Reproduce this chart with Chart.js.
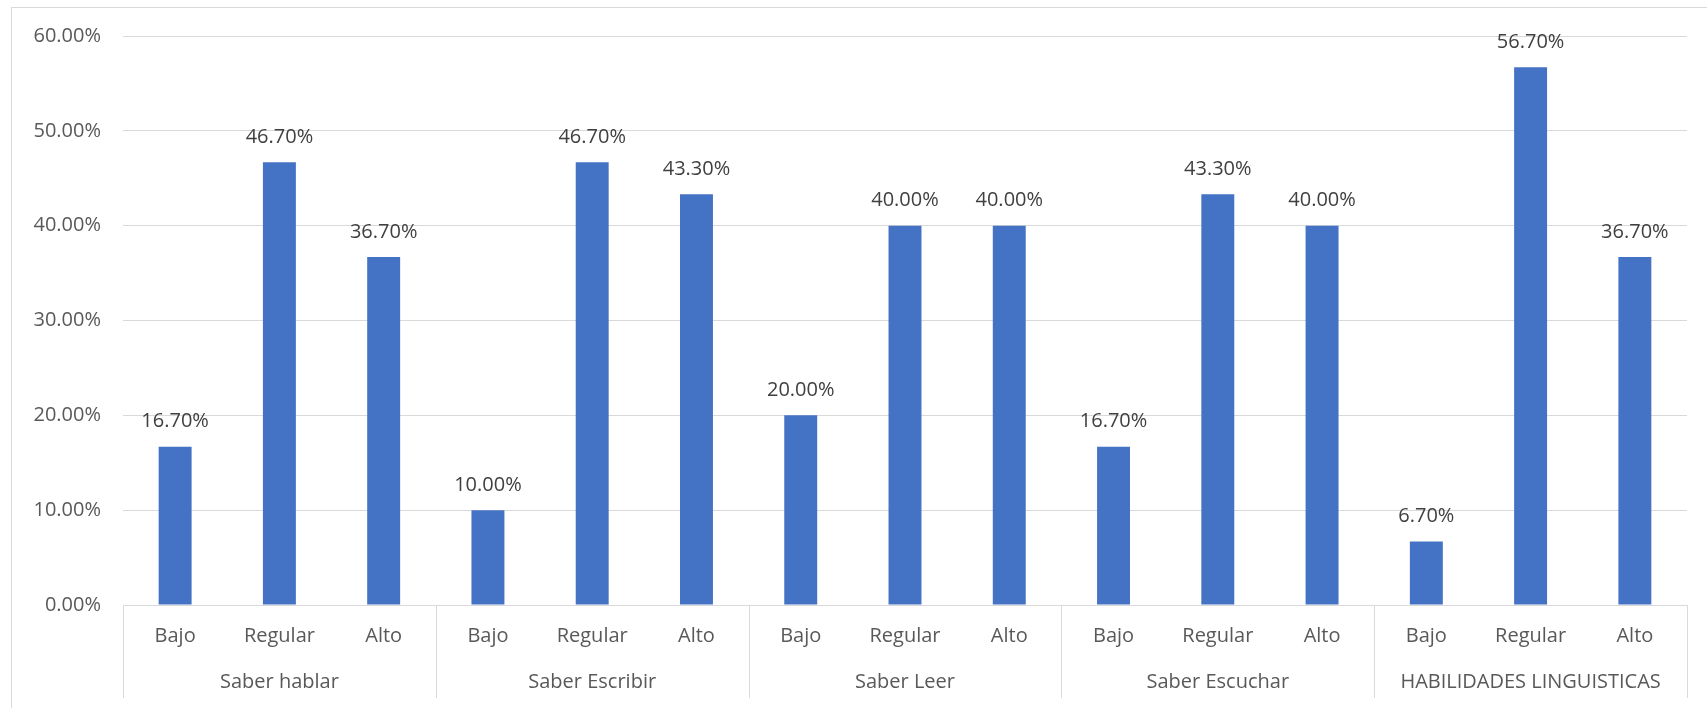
<!DOCTYPE html>
<html>
<head>
<meta charset="utf-8">
<script src="https://cdn.jsdelivr.net/npm/chart.js@4.4.1/dist/chart.umd.min.js"></script>
<style>
  html, body { margin: 0; padding: 0; background: #fff; }
  #wrap { width: 1707px; height: 708px; position: relative; }
</style>
</head>
<body>
<div id="wrap"><canvas id="chart" width="1707" height="708"></canvas></div>
<script>
const levels = ['Bajo', 'Regular', 'Alto'];
const groups = ['Saber hablar', 'Saber Escribir', 'Saber Leer', 'Saber Escuchar', 'HABILIDADES LINGUISTICAS'];
const values = [16.7, 46.7, 36.7, 10.0, 46.7, 43.3, 20.0, 40.0, 40.0, 16.7, 43.3, 40.0, 6.7, 56.7, 36.7];
const yTicks = [0, 10, 20, 30, 40, 50, 60];

const labels = [];
groups.forEach(() => levels.forEach(l => labels.push(l)));

const FONT = "'Open Sans', sans-serif";
const GRID = '#d9d9d9';
const SIZE = 20;

// frame around the whole chart
const framePlugin = {
  id: 'frame',
  beforeDraw(chart) {
    const ctx = chart.ctx;
    ctx.save();
    ctx.strokeStyle = GRID;
    ctx.lineWidth = 1;
    ctx.strokeRect(11.5, 7.5, 1720, 720);
    ctx.restore();
  }
};

// vertical separators between groups on the category axis
const dividers = {
  id: 'dividers',
  afterDraw(chart) {
    const x = chart.scales.x;
    const ctx = chart.ctx;
    const step = x.width / labels.length;
    ctx.save();
    ctx.strokeStyle = GRID;
    ctx.lineWidth = 1;
    for (let i = 0; i <= labels.length; i += levels.length) {
      const px = Math.round(x.left + i * step) + 0.5;
      ctx.beginPath();
      ctx.moveTo(px, x.top);
      ctx.lineTo(px, 698);
      ctx.stroke();
    }
    ctx.restore();
  }
};

// value labels above each bar
const valueLabels = {
  id: 'valueLabels',
  afterDatasetsDraw(chart) {
    const ctx = chart.ctx;
    const meta = chart.getDatasetMeta(0);
    ctx.save();
    ctx.font = SIZE + 'px ' + FONT;
    ctx.fillStyle = '#404040';
    ctx.textAlign = 'center';
    ctx.textBaseline = 'middle';
    meta.data.forEach((bar, i) => {
      ctx.fillText(values[i].toFixed(2) + '%', bar.x, bar.y - 25);
    });
    ctx.restore();
  }
};

new Chart(document.getElementById('chart'), {
  type: 'bar',
  data: {
    labels: labels,
    datasets: [{
      data: values,
      backgroundColor: '#4472c4',
      categoryPercentage: 1,
      barPercentage: 0.316
    }]
  },
  options: {
    responsive: false,
    animation: false,
    layout: { padding: { left: 11, right: 20, top: 36, bottom: 13 } },
    plugins: { legend: { display: false }, tooltip: { enabled: false } },
    scales: {
      y: {
        min: 0,
        max: 60,
        afterBuildTicks(scale) { scale.ticks = yTicks.map(v => ({ value: v })); },
        afterFit(scale) { scale.width = 112; },
        border: { display: false },
        grid: { color: GRID, lineWidth: 1, drawTicks: false },
        ticks: {
          padding: 22,
          color: '#595959',
          font: { family: FONT, size: SIZE },
          callback: v => v.toFixed(2) + '%'
        }
      },
      x: {
        afterFit(scale) { scale.height = 44; },
        grid: { display: false, drawTicks: false },
        border: { color: GRID },
        ticks: { padding: 19, color: '#595959', font: { family: FONT, size: SIZE }, maxRotation: 0, autoSkip: false }
      },
      x2: {
        type: 'category',
        labels: groups,
        position: 'bottom',
        offset: true,
        afterFit(scale) { scale.height = 46; },
        grid: { display: false, drawTicks: false },
        border: { display: false },
        ticks: { padding: 21, color: '#595959', font: { family: FONT, size: SIZE }, maxRotation: 0, autoSkip: false }
      }
    }
  },
  plugins: [framePlugin, dividers, valueLabels]
});
</script>
</body>
</html>
